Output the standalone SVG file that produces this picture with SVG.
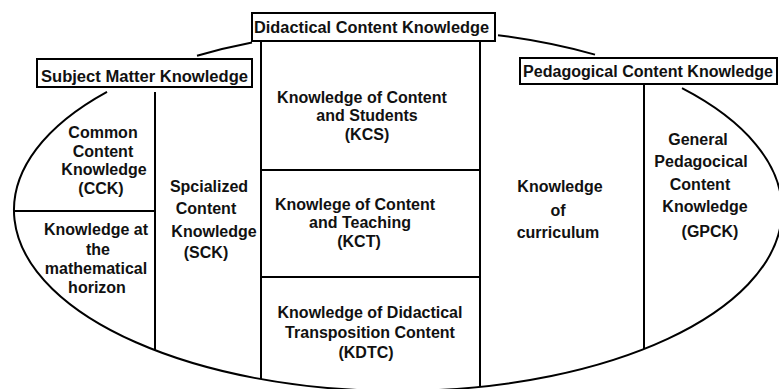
<svg xmlns="http://www.w3.org/2000/svg" width="779" height="389" viewBox="0 0 779 389">
<style>
.ln{fill:none;stroke:#000;stroke-width:2}
.box{fill:#fff;stroke:#000;stroke-width:2}
text{font-family:"Liberation Sans",Arial,sans-serif;font-size:16px;font-weight:bold;fill:#111;text-anchor:middle}
</style>
<rect width="779" height="389" fill="#fff"/>
<g id="connectors">
<path class="ln" d="M197,55.8 A384,181 0 0 1 252,42.6"/>
<path class="ln" d="M498,35.2 A384,181 0 0 1 595,54.6"/>
<path class="ln" d="M682,88.2 A384,181 0 1 1 107,91.9"/>
<line class="ln" x1="155" y1="92" x2="155" y2="350"/>
<line class="ln" x1="14" y1="211" x2="155" y2="211"/>
<line class="ln" x1="261" y1="41" x2="261" y2="379"/>
<line class="ln" x1="480" y1="41" x2="480" y2="387"/>
<line class="ln" x1="261" y1="170" x2="480" y2="170"/>
<line class="ln" x1="261" y1="277" x2="480" y2="277"/>
<line class="ln" x1="644" y1="85" x2="644" y2="349"/>
</g>
<g id="didactical-header">
<rect class="box" x="252" y="13" width="243" height="28"/>
<text x="371.5" y="32.5" textLength="235" lengthAdjust="spacingAndGlyphs">Didactical Content Knowledge</text>
</g>
<g id="smk-header">
<rect class="box" x="37" y="59" width="215" height="28"/>
<text x="144.5" y="82" textLength="207" lengthAdjust="spacingAndGlyphs">Subject Matter Knowledge</text>
</g>
<g id="pck-header">
<rect class="box" x="520" y="58" width="257" height="26"/>
<text x="648" y="77" textLength="250" lengthAdjust="spacingAndGlyphs">Pedagogical Content Knowledge</text>
</g>
<g id="cck">
<text x="103" y="138">Common</text>
<text x="103" y="156.5">Content</text>
<text x="104" y="175">Knowledge</text>
<text x="101" y="194">(CCK)</text>
</g>
<g id="horizon">
<text x="96" y="235">Knowledge at</text>
<text x="98" y="255">the</text>
<text x="96" y="274">mathematical</text>
<text x="97" y="293">horizon</text>
</g>
<g id="sck">
<text x="209" y="192">Spcialized</text>
<text x="206" y="214">Content</text>
<text x="214" y="237">Knowledge</text>
<text x="206" y="258">(SCK)</text>
</g>
<g id="kcs">
<text x="362" y="102.5">Knowledge of Content</text>
<text x="367" y="121">and Students</text>
<text x="367" y="140">(KCS)</text>
</g>
<g id="kct">
<text x="355" y="209.5">Knowlege of Content</text>
<text x="360" y="228">and Teaching</text>
<text x="359" y="247">(KCT)</text>
</g>
<g id="kdtc">
<text x="370" y="318">Knowledge of Didactical</text>
<text x="370" y="338">Transposition Content</text>
<text x="366" y="358">(KDTC)</text>
</g>
<g id="curriculum">
<text x="560" y="192">Knowledge</text>
<text x="558" y="216">of</text>
<text x="558" y="238">curriculum</text>
</g>
<g id="gpck">
<text x="698" y="145">General</text>
<text x="701" y="167">Pedagocical</text>
<text x="700" y="190">Content</text>
<text x="705" y="212">Knowledge</text>
<text x="710" y="237">(GPCK)</text>
</g>
</svg>
